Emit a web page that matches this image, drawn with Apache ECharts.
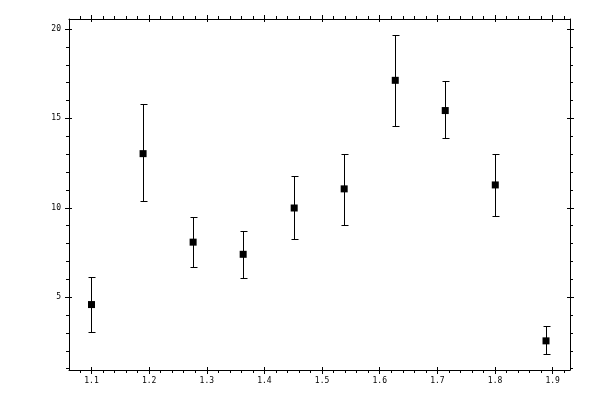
<!DOCTYPE html>
<html>
<head>
<meta charset="utf-8">
<script src="https://cdn.jsdelivr.net/npm/echarts@6/dist/echarts.min.js"></script>
<style>
html,body{margin:0;padding:0;background:#fff;}
#chart{width:600px;height:400px;}
</style>
</head>
<body>
<div id="chart"></div>
<script>
// Data
const xValues = [1.100, 1.1895, 1.2763, 1.3631, 1.4516, 1.5383, 1.6269, 1.7136, 1.8004, 1.8884];
const yValues = [4.59, 13.03, 8.08, 7.40, 9.99, 11.06, 17.13, 15.44, 11.28, 2.56];
const yLow    = [3.01, 10.33, 6.67, 6.05, 8.25, 9.03, 14.56, 13.87, 9.54, 1.79];
const yHigh   = [6.09, 15.76, 9.46, 8.70, 11.73, 13.00, 19.66, 17.05, 12.97, 3.37];

// Tick labels
const xMajorTicks = [1.1, 1.2, 1.3, 1.4, 1.5, 1.6, 1.7, 1.8, 1.9];
const xMinorTicks = [1.08, 1.12, 1.14, 1.16, 1.18, 1.22, 1.24, 1.26, 1.28, 1.32, 1.34, 1.36, 1.38,
  1.42, 1.44, 1.46, 1.48, 1.52, 1.54, 1.56, 1.58, 1.62, 1.64, 1.66, 1.68, 1.72, 1.74, 1.76, 1.78,
  1.82, 1.84, 1.86, 1.88, 1.92];
const yMajorTicks = [5, 10, 15, 20];
const yMinorTicks = [1, 2, 3, 4, 6, 7, 8, 9, 11, 12, 13, 14, 16, 17, 18, 19];

const X_MIN = 1.061, X_MAX = 1.930;
const Y_MIN = 0.93, Y_MAX = 20.56;

const chart = echarts.init(document.getElementById('chart'), null, {renderer: 'canvas'});

const FONT = {fontFamily: 'DejaVu Sans Mono', fontSize: 8, color: '#000'};
const LINE = {color: '#000', width: 1};

function xAxis(position, kind) {
  const isMain = kind === 'main';
  return {
    type: 'value', gridIndex: 0, position: position, min: X_MIN, max: X_MAX,
    axisLine: {show: isMain, lineStyle: LINE},
    splitLine: {show: false},
    axisTick: {
      show: true,
      inside: kind === 'in',
      length: kind === 'minor' ? 3 : (kind === 'in' ? 3 : 4),
      lineStyle: LINE,
      customValues: kind === 'minor' ? xMinorTicks : xMajorTicks
    },
    axisLabel: {
      show: isMain && position === 'bottom',
      customValues: xMajorTicks,
      margin: 7,
      formatter: v => Number(v).toFixed(1),
      ...FONT
    }
  };
}

function yAxis(position, kind) {
  const isMain = kind === 'main';
  return {
    type: 'value', gridIndex: 0, position: position, min: Y_MIN, max: Y_MAX,
    axisLine: {show: isMain, lineStyle: LINE},
    splitLine: {show: false},
    axisTick: {
      show: true,
      inside: kind === 'in',
      length: kind === 'minor' ? 3 : (kind === 'in' ? 3 : 4),
      lineStyle: LINE,
      customValues: kind === 'minor' ? yMinorTicks : yMajorTicks
    },
    axisLabel: {
      show: isMain && position === 'left',
      customValues: yMajorTicks,
      margin: 8,
      formatter: v => String(v),
      ...FONT
    }
  };
}

const points = xValues.map((x, i) => [x, yValues[i]]);
const bars = xValues.map((x, i) => [x, yLow[i], yHigh[i]]);

function crisp(v) { return Math.round(v - 0.5) + 0.5; }

chart.setOption({
  animation: false,
  backgroundColor: '#fff',
  grid: {left: 69, right: 30, top: 19, bottom: 30, containLabel: false},
  xAxis: [
    xAxis('bottom', 'main'), xAxis('bottom', 'in'), xAxis('bottom', 'minor'),
    xAxis('top', 'main'), xAxis('top', 'in'), xAxis('top', 'minor')
  ],
  yAxis: [
    yAxis('left', 'main'), yAxis('left', 'in'), yAxis('left', 'minor'),
    yAxis('right', 'main'), yAxis('right', 'in'), yAxis('right', 'minor')
  ],
  series: [
    {
      type: 'custom',
      xAxisIndex: 0, yAxisIndex: 0,
      data: bars,
      encode: {x: 0, y: [1, 2]},
      renderItem: function (params, api) {
        const x = api.value(0);
        const lo = api.coord([x, api.value(1)]);
        const hi = api.coord([x, api.value(2)]);
        const cx = crisp(lo[0]);
        const yl = crisp(lo[1]);
        const yh = crisp(hi[1]);
        const cap = 3;
        const style = {stroke: '#000', lineWidth: 1};
        return {
          type: 'group',
          children: [
            {type: 'line', shape: {x1: cx, y1: yl, x2: cx, y2: yh}, style: style},
            {type: 'line', shape: {x1: cx - cap, y1: yl, x2: cx + cap + 1, y2: yl}, style: style},
            {type: 'line', shape: {x1: cx - cap, y1: yh, x2: cx + cap + 1, y2: yh}, style: style}
          ]
        };
      },
      z: 2
    },
    {
      type: 'scatter',
      xAxisIndex: 0, yAxisIndex: 0,
      data: points,
      symbol: 'rect',
      symbolSize: 7,
      itemStyle: {color: '#000', opacity: 1},
      z: 3
    }
  ]
});
</script>
</body>
</html>
